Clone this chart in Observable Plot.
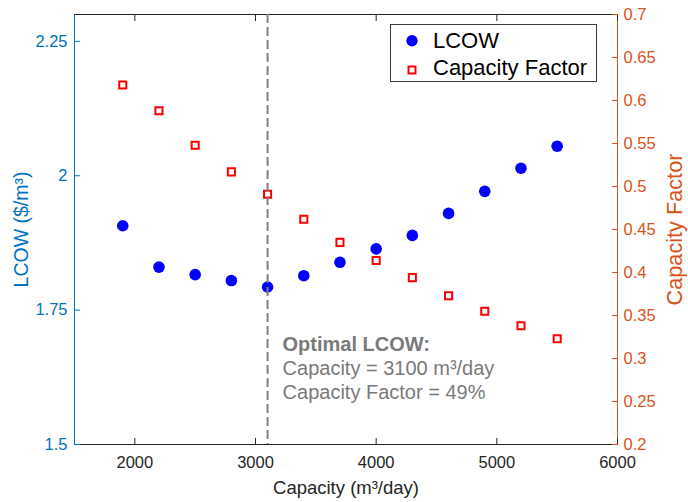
<!DOCTYPE html>
<html>
<head>
<meta charset="utf-8">
<script src="https://cdn.jsdelivr.net/npm/d3@7"></script>
<script src="https://cdn.jsdelivr.net/npm/@observablehq/plot@0.6"></script>
<style>
  html, body { margin: 0; padding: 0; background: #fff; }
  body { font-family: "Liberation Sans", Arial, Helvetica, sans-serif; }
  #wrap { position: relative; width: 688px; height: 502px; overflow: hidden; }
  #legend { position: absolute; left: 390px; top: 24px; }
</style>
</head>
<body>
<div id="wrap"></div>
<script>
// ---- data ----
const capacity = [1900, 2200, 2500, 2800, 3100, 3400, 3700, 4000, 4300, 4600, 4900, 5200, 5500];
const lcow = [1.907, 1.830, 1.816, 1.805, 1.793, 1.814, 1.839, 1.864, 1.889, 1.930, 1.971, 2.014, 2.055];
const capFactor = [0.618, 0.588, 0.548, 0.517, 0.491, 0.462, 0.435, 0.414, 0.394, 0.373, 0.355, 0.338, 0.323];

const xTicks = [2000, 3000, 4000, 5000, 6000];
const lcowTicks = [1.5, 1.75, 2, 2.25];
const cfTicks = [0.2, 0.25, 0.3, 0.35, 0.4, 0.45, 0.5, 0.55, 0.6, 0.65, 0.7];
const xDomain = [1500, 6000];
const lcowDomain = [1.5, 2.3];
const cfDomain = [0.2, 0.7];

const optimalCapacity = [3100];
const annotation = [{x: 3100, y: 1.674, title: "Optimal LCOW:", body: "Capacity = 3100 m³/day\nCapacity Factor = 49%"}];

const xLabel = ["Capacity (m³/day)"];
const leftLabel = ["LCOW ($/m³)"];
const rightLabel = ["Capacity Factor"];
const legendLabels = ["LCOW", "Capacity Factor"];

// ---- styles ----
const BLUE_AX = "#0072BD";
const RED_AX = "#D95319";
const DARK = "#262626";
const FONT = "Liberation Sans, Arial, Helvetica, sans-serif";

// secondary axis mapping
const k = (lcowDomain[1] - lcowDomain[0]) / (cfDomain[1] - cfDomain[0]);
const cfToL = v => lcowDomain[0] + (v - cfDomain[0]) * k;
const lToCf = v => cfDomain[0] + (v - lcowDomain[0]) / k;

const rows = capacity.map((c, i) => ({c, lcow: lcow[i], cf: capFactor[i], cfL: cfToL(capFactor[i])}));

const chart = Plot.plot({
  width: 688,
  height: 502,
  marginLeft: 74,
  marginRight: 71,
  marginTop: 14,
  marginBottom: 58,
  style: {fontFamily: FONT, background: "white", overflow: "visible"},
  x: {domain: xDomain, label: null},
  y: {domain: lcowDomain, label: null},
  marks: [
    // frame lines
    Plot.ruleY([lcowDomain[0]], {stroke: DARK, strokeWidth: 1}),
    Plot.ruleY([lcowDomain[1]], {stroke: DARK, strokeWidth: 1}),
    Plot.ruleX([xDomain[0]], {stroke: BLUE_AX, strokeWidth: 1}),
    Plot.ruleX([xDomain[1]], {stroke: RED_AX, strokeWidth: 1}),
    // axes
    Plot.axisX(xTicks, {anchor: "bottom", tickSize: -6, tickPadding: 17.6, fontSize: 16.5, color: DARK, label: null,
      tickFormat: d => String(d)}),
    Plot.axisX(xTicks, {anchor: "top", tickSize: -6, tickFormat: () => "", color: DARK, label: null}),
    Plot.axisY(lcowTicks, {anchor: "left", tickSize: -6, tickPadding: 13, fontSize: 16.5, color: BLUE_AX, label: null,
      tickFormat: d => String(d)}),
    Plot.axisY(cfTicks.map(cfToL), {anchor: "right", tickSize: -6, tickPadding: 12, fontSize: 16.5, color: RED_AX, label: null,
      tickFormat: d => String(+lToCf(d).toFixed(2))}),
    // data
    Plot.dot(rows, {x: "c", y: "lcow", r: 5.8, fill: "#0000FF", stroke: "none"}),
    Plot.dot(rows, {x: "c", y: "cfL", r: 4, symbol: "square", fill: "none", stroke: "#FF0000", strokeWidth: 2}),
    // optimal line
    Plot.ruleX(optimalCapacity, {stroke: "#808080", strokeWidth: 2, strokeDasharray: "9,4"}),
    // annotation
    Plot.text(annotation, {x: "x", y: "y", text: "title", dx: 15, textAnchor: "start", lineAnchor: "bottom",
      fontWeight: "bold", fontSize: 20, fill: "#7a7a7a"}),
    Plot.text(annotation, {x: "x", y: "y", text: "body", dx: 15, dy: 47.6, textAnchor: "start", lineAnchor: "bottom",
      lineHeight: 1.19, fontSize: 20, fill: "#7a7a7a"}),
    // axis titles
    Plot.text(xLabel, {text: d => d, frameAnchor: "bottom", dy: 49, textAnchor: "middle", lineAnchor: "bottom", fontSize: 18.5, fill: DARK}),
    Plot.text(leftLabel, {text: d => d, frameAnchor: "left", dx: -46.5, rotate: -90, textAnchor: "middle", lineAnchor: "bottom", fontSize: 19.5, fill: BLUE_AX}),
    Plot.text(rightLabel, {text: d => d, frameAnchor: "right", dx: 64, rotate: -90, textAnchor: "middle", lineAnchor: "bottom", fontSize: 21.7, fill: RED_AX})
  ]
});

const wrap = document.getElementById("wrap");
wrap.appendChild(chart);

// legend
const ns = "http://www.w3.org/2000/svg";
const lg = document.createElementNS(ns, "svg");
lg.setAttribute("id", "legend");
lg.setAttribute("width", 208);
lg.setAttribute("height", 59);
lg.innerHTML = `
  <rect x="0.5" y="0.5" width="206" height="57" fill="white" stroke="#3c3c3c" stroke-width="1"/>
  <circle cx="22" cy="16.7" r="5.7" fill="#0000FF"/>
  <text x="43" y="24.3" font-size="22" fill="#000" font-family="${FONT}">${legendLabels[0]}</text>
  <rect x="18.5" y="42.5" width="7" height="7" fill="none" stroke="#FF0000" stroke-width="2"/>
  <text x="43" y="51" font-size="22" fill="#000" font-family="${FONT}">${legendLabels[1]}</text>
`;
wrap.appendChild(lg);
</script>
</body>
</html>
